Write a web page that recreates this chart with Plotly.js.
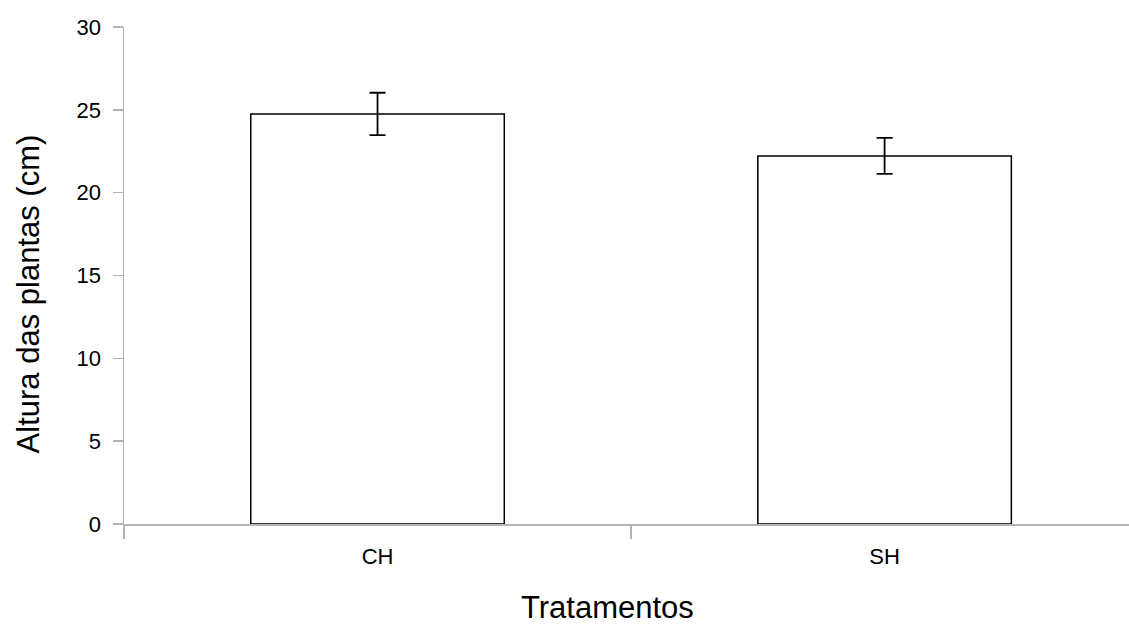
<!DOCTYPE html>
<html>
<head>
<meta charset="utf-8">
<script src="https://cdn.plot.ly/plotly-3.0.1.min.js"></script>
<style>html,body{margin:0;padding:0;background:#fff;}#chart{width:1129px;height:625px;}</style>
</head>
<body>
<div id="chart"></div>
<script>
const categories = ["CH", "SH"];
const means = [24.75, 22.22];
const errors = [1.28, 1.09];
const yTickVals = [0, 5, 10, 15, 20, 25, 30];
const xTitle = "Tratamentos";
const yTitle = "Altura das plantas (cm)";

const trace = {
  type: "bar",
  x: categories,
  y: means,
  width: 0.5,
  marker: { color: "#ffffff", line: { color: "#000000", width: 1.5 } },
  error_y: { type: "data", array: errors, visible: true, color: "#000000", thickness: 1.8, width: 8 },
  hoverinfo: "none"
};

const layout = {
  width: 1129,
  height: 625,
  margin: { l: 124, r: 0, t: 27, b: 101 },
  paper_bgcolor: "#ffffff",
  plot_bgcolor: "#ffffff",
  showlegend: false,
  font: { family: "Liberation Sans, Arial, sans-serif", color: "#000000" },
  xaxis: {
    type: "category",
    range: [-0.5, 1.482],
    tickson: "boundaries",
    ticks: "outside",
    ticklen: 13,
    tickcolor: "#b3b3b3",
    tickwidth: 1.5,
    showline: true,
    linecolor: "#b3b3b3",
    linewidth: 1.5,
    showgrid: false,
    zeroline: false,
    automargin: false,
    ticklabelstandoff: 12,
    tickfont: { size: 22, color: "#000000" }
  },
  yaxis: {
    range: [0, 30],
    tickvals: yTickVals,
    ticks: "outside",
    ticklen: 10,
    tickcolor: "#b3b3b3",
    tickwidth: 1.5,
    showline: true,
    linecolor: "#b3b3b3",
    linewidth: 1.5,
    showgrid: false,
    zeroline: false,
    automargin: false,
    ticklabelstandoff: 7,
    tickfont: { size: 22, color: "#000000" }
  },
  annotations: [
    { text: xTitle, xref: "paper", yref: "paper", x: 0.4806, y: -0.169, xanchor: "center", yanchor: "middle",
      showarrow: false, borderpad: 0, font: { size: 31, color: "#000000" } },
    { text: yTitle, xref: "paper", yref: "paper", x: -0.0941, y: 0.4628, xanchor: "center", yanchor: "middle",
      textangle: -90, showarrow: false, borderpad: 0, font: { size: 31, color: "#000000" } }
  ]
};

Plotly.newPlot("chart", [trace], layout, { staticPlot: true, displayModeBar: false });
</script>
</body>
</html>
